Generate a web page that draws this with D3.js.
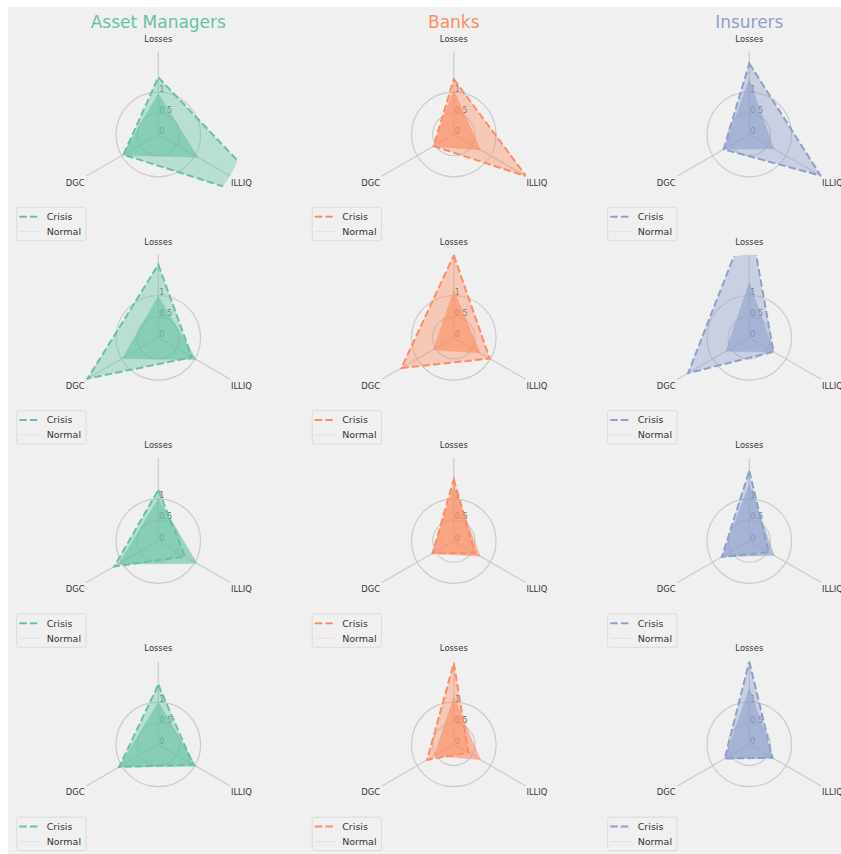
<html>
<script src="https://d3js.org/d3.v7.min.js"></script>
<style>
    body { margin: 0; background: #fff; }
    text { font-family: "DejaVu Sans", sans-serif; font-weight: normal; }
</style>
<body>
<svg id="chart" width="841" height="854"></svg>
<script>
// axes of every radar, clockwise from the top
var categories = ["Losses", "ILLIQ", "DGC"];
var groups = ["Asset Managers", "Banks", "Insurers"];
var colors = ["#66c2a5", "#fc8d62", "#8da0cb"];
var radialTicks = [0, 0.5, 1];
var legendLabels = ["Crisis", "Normal"];

// one row per panel row, values in category order (Losses, ILLIQ, DGC)
var crisisAM = [[1.35, 3.3, 0.95], [1.73, 0.92, 1.93], [1.21, 0.73, 1.2], [1.41, 0.95, 1.07]];
var normalAM = [[0.97, 1.08, 0.98], [0.98, 1.04, 0.98], [1.0, 1.06, 1.08], [1.0, 1.04, 1.07]];
var crisisBanks = [[1.31, 1.98, 0.55], [1.95, 0.98, 1.43], [1.46, 0.58, 0.58], [1.92, 0.4, 0.73]];
var normalBanks = [[1.05, 0.73, 0.57], [1.12, 0.72, 0.56], [1.3, 0.72, 0.59], [1.12, 0.73, 0.54]];
var crisisIns = [[1.68, 1.95, 0.7], [2.86, 0.66, 1.67], [1.66, 0.53, 0.75], [1.96, 0.63, 0.67]];
var normalIns = [[1.3, 0.67, 0.7], [1.31, 0.67, 0.64], [1.35, 0.68, 0.74], [1.33, 0.66, 0.67]];

var crisis = [crisisAM, crisisBanks, crisisIns];
var normal = [normalAM, normalBanks, normalIns];

var rMax = 1.962;
var outer = 83;
var r = d3.scaleLinear().domain([0, rMax]).range([0, outer]);
var angle = d3.scaleLinear().domain([0, categories.length]).range([0, 2 * Math.PI]);

var svg = d3.select("#chart");
svg.append("rect").attr("x", 8).attr("y", 7).attr("width", 833).attr("height", 847).attr("fill", "#f0f0f0");

var radar = d3.lineRadial()
    .angle(function(d, i) { return angle(i); })
    .radius(function(d) { return r(d); })
    .curve(d3.curveLinearClosed);

groups.forEach(function(name, j) {
    var cx = 158.3 + 295.5 * j;
    svg.append("text")
        .attr("x", cx).attr("y", 22)
        .attr("text-anchor", "middle")
        .attr("dominant-baseline", "central")
        .style("font-size", "17px")
        .attr("fill", colors[j])
        .text(name);

    crisis[j].forEach(function(row, i) {
        var cy = 134.5 + 203.3 * i;
        var g = svg.append("g").attr("transform", "translate(" + cx + "," + cy + ")");
        var clipId = "clip" + i + "_" + j;
        g.append("clipPath").attr("id", clipId)
            .append("circle").attr("r", outer);

        // grid rings and spokes
        radialTicks.filter(function(t) { return t > 0; }).forEach(function(t) {
            g.append("circle").attr("r", r(t))
                .attr("fill", "none").attr("stroke", "#cbcbcb").attr("stroke-width", 1.2);
        });
        categories.forEach(function(c, k) {
            var a = angle(k);
            g.append("line")
                .attr("x2", Math.sin(a) * outer).attr("y2", -Math.cos(a) * outer)
                .attr("stroke", "#cbcbcb").attr("stroke-width", 1.2);
            var lr = 96;
            g.append("text")
                .attr("x", Math.sin(a) * lr).attr("y", -Math.cos(a) * lr)
                .attr("text-anchor", "middle")
                .attr("dominant-baseline", "central")
                .style("font-size", "8.4px")
                .attr("fill", "#333")
                .text(c);
        });
        radialTicks.forEach(function(t) {
            g.append("text")
                .attr("x", 1).attr("y", -r(t) - 0.5)
                .style("font-size", "8px")
                .attr("fill", "#666")
                .text(d3.format("~g")(t));
        });

        var plot = g.append("g").attr("clip-path", "url(#" + clipId + ")");
        plot.append("path").attr("d", radar(row))
            .attr("fill", colors[j]).attr("fill-opacity", 0.4).attr("stroke", "none");
        plot.append("path").attr("d", radar(row))
            .attr("fill", "none").attr("stroke", colors[j]).attr("stroke-width", 2)
            .attr("stroke-dasharray", "7.4,3.2");
        plot.append("path").attr("d", radar(normal[j][i]))
            .attr("fill", colors[j]).attr("fill-opacity", 0.6)
            .attr("stroke", colors[j]).attr("stroke-opacity", 0.2).attr("stroke-width", 1);

        // legend
        var lg = g.append("g").attr("transform", "translate(" + (-141.6) + "," + 72.8 + ")");
        lg.append("rect").attr("width", 69.3).attr("height", 33.4).attr("rx", 2)
            .attr("fill", "#f0f0f0").attr("stroke", "#d6d6d6").attr("stroke-width", 0.8);
        legendLabels.forEach(function(l, k) {
            var y = 9.4 + 15 * k;
            var ln = lg.append("line").attr("x1", 2.6).attr("x2", 22.6).attr("y1", y).attr("y2", y)
                .attr("stroke", colors[j]);
            if (k === 0) ln.attr("stroke-width", 2).attr("stroke-dasharray", "7.4,3.2");
            else ln.attr("stroke-width", 1).attr("stroke-opacity", 0.2);
            lg.append("text").attr("x", 30).attr("y", y)
                .attr("dominant-baseline", "central")
                .style("font-size", "9.5px").attr("fill", "#333")
                .text(l);
        });
    });
});
</script>
</body>
</html>
